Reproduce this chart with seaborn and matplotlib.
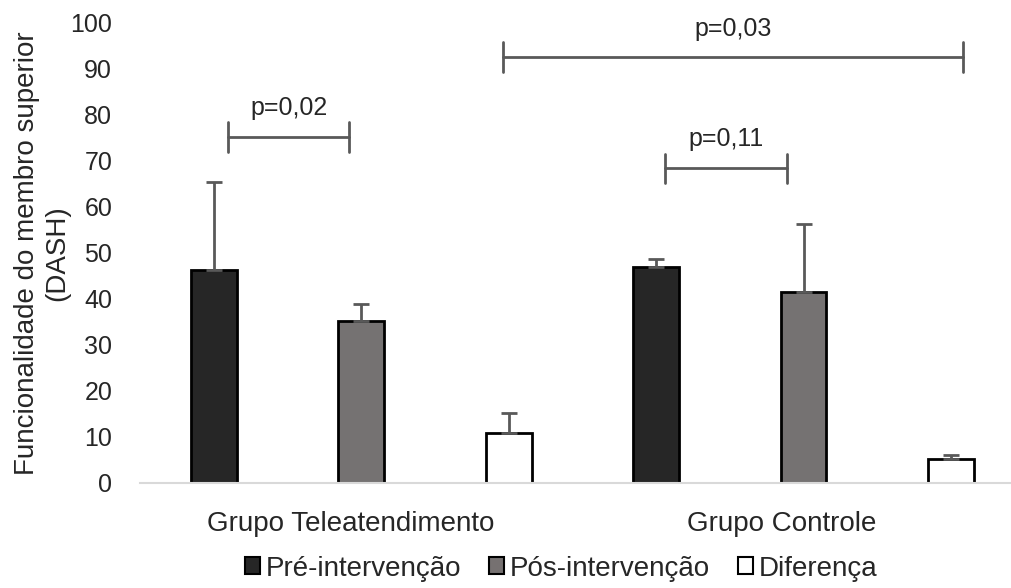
import pandas as pd
import numpy as np
import matplotlib
matplotlib.use("Agg")
import matplotlib.pyplot as plt
from matplotlib.patches import Patch
import seaborn as sns

grupos = ["Grupo Teleatendimento", "Grupo Controle"]
series = ["Pré-intervenção", "Pós-intervenção", "Diferença"]
medias_tele = [46.3, 35.2, 10.9]
dp_tele = [19.1, 3.8, 4.4]
medias_ctrl = [46.9, 41.5, 5.2]
dp_ctrl = [1.8, 14.9, 0.9]
cores = ["#262626", "#767171", "#ffffff"]

slots = [f"{g}|{s}" for g in grupos for s in series]
df = pd.DataFrame({
    "slot": slots,
    "serie": series * 2,
    "valor": medias_tele + medias_ctrl,
    "dp": dp_tele + dp_ctrl,
})

sns.set_style("white")
plt.rcParams["font.family"] = ["Liberation Sans", "DejaVu Sans"]

fig = plt.figure(figsize=(10.11, 5.88), dpi=100)
ax = fig.add_axes([140 / 1011, 0.1786, 870 / 1011, 0.7823])

sns.barplot(data=df, x="slot", y="valor", hue="serie", order=slots,
            hue_order=series, palette=cores, dodge=False, width=0.31,
            edgecolor="black", linewidth=2, errorbar=None, legend=False, ax=ax)

xs = np.arange(len(slots))
ax.errorbar(xs, df["valor"], yerr=[np.zeros(len(xs)), df["dp"]], fmt="none",
            ecolor="#595959", elinewidth=2, capsize=6, capthick=2, zorder=3)

# brackets with p-values
brackets = [(0.10, 0.92, 75.2, "p=0,02", 81.6),
            (3.06, 3.89, 68.4, "p=0,11", 74.8),
            (1.96, 5.08, 92.6, "p=0,03", 98.6)]
for x0, x1, y, txt, ty in brackets:
    ax.plot([x0, x1], [y, y], color="#595959", lw=2, clip_on=False)
    for xe in (x0, x1):
        ax.plot([xe, xe], [y - 3.2, y + 3.2], color="#595959", lw=2, clip_on=False)
    ax.text((x0 + x1) / 2, ty, txt, ha="center", va="center", fontsize=18)

ax.set_xlim(-0.5, 5.4)
ax.set_ylim(0, 100)
ax.set_yticks(range(0, 101, 10))
ax.tick_params(axis="y", length=0, labelsize=18, pad=20)
ax.set_xticks([0.93, 3.85])
ax.set_xticklabels(grupos, fontsize=20)
ax.set_xticks(np.arange(-0.5, 5.0, 1.0), minor=True)
ax.tick_params(axis="x", which="major", length=0, pad=20)
ax.tick_params(axis="x", which="minor", length=6, color="#d9d9d9", width=1.5)
ax.set_xlabel("")
ax.set_ylabel("Funcionalidade do membro superior\n(DASH)", fontsize=20)
ax.yaxis.set_label_coords(-0.08, 0.5)
for s in ["top", "right", "left"]:
    ax.spines[s].set_visible(False)
ax.spines["bottom"].set_color("#d9d9d9")
ax.spines["bottom"].set_linewidth(1.5)

handles = [Patch(facecolor=c, edgecolor="black", linewidth=1.5) for c in cores]
fig.legend(handles, series, loc="center", bbox_to_anchor=(0.555, 0.033), ncol=3,
           frameon=False, fontsize=20, handlelength=0.55, handleheight=0.55,
           handletextpad=0.2, columnspacing=1.0)

fig.savefig("out.png", dpi=100)
